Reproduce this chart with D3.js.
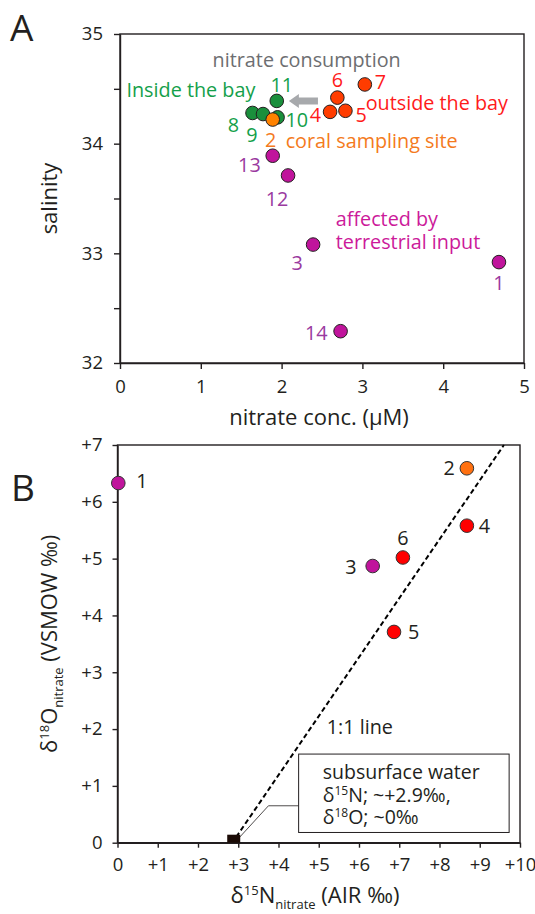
<!DOCTYPE html>
<html>
<head>
<meta charset="utf-8">
<script src="https://cdn.jsdelivr.net/npm/d3@7"></script>
<style>
  body { margin: 0; background: #fff; }
  svg { font-family: "Open Sans", "Noto Sans", sans-serif; }
  .axis path, .axis line { stroke: #231f20; stroke-width: 1.4; }
  .axis text { fill: #231f20; font-size: 18.5px; font-family: "Open Sans", sans-serif; }
</style>
</head>
<body>
<div id="chart"></div>
<script>
// panel A: salinity vs nitrate
let sitesA    = ["1", "2", "3", "4", "5", "6", "7", "8", "9", "10", "11", "12", "13", "14"];
let nitrateA  = [4.69, 1.89, 2.39, 2.60, 2.79, 2.69, 3.03, 1.64, 1.77, 1.95, 1.94, 2.08, 1.89, 2.73];
let salinityA = [32.92, 34.22, 33.08, 34.29, 34.30, 34.42, 34.54, 34.28, 34.27, 34.24, 34.39, 33.71, 33.89, 32.29];
let groupA    = ["terr", "coral", "terr", "out", "out", "out", "out", "in", "in", "in", "in", "terr", "terr", "terr"];
let xTicksA = [0, 1, 2, 3, 4, 5];
let yTicksA = [32, 32.5, 33, 33.5, 34, 34.5, 35];

// panel B: d18O vs d15N
let sitesB = ["1", "2", "3", "4", "5", "6"];
let d15N   = [0.02, 8.68, 6.34, 8.68, 6.87, 7.09];
let d18O   = [6.33, 6.59, 4.87, 5.58, 3.71, 5.02];
let groupB = ["terr", "coral", "terr", "out", "out", "out"];
let xTicksB = [0, 1, 2, 3, 4, 5, 6, 7, 8, 9, 10];
let yTicksB = [0, 1, 2, 3, 4, 5, 6, 7];
let subsurface = {n: 2.9, o: 0};

let width = 535;
let height = 914;
let ink = "#231f20";
let circleRadius = 6.8;
let labelSize = 19.8;

let fillA = {in: "#1a8f3c", coral: "#ff8200", out: "#ff3c00", terr: "#c0149c"};
let fillB = {coral: "#ff7010", out: "#ff0000", terr: "#c0149c"};
let textA = {in: "#14a04a", coral: "#f47a20", out: "#ff1a1a", terr: "#9a3aa0"};

// label placement next to each point in A: [anchor, dx, dy]
let offA = {
  "1": ["middle", 0, 28], "2": ["middle", -2, 27], "3": ["middle", -16, 25],
  "4": ["end", -9, 10], "5": ["start", 10, 11], "6": ["middle", 0, -11],
  "7": ["start", 10, 5], "8": ["middle", -19, 19], "9": ["middle", -11, 28],
  "10": ["start", 8, 10], "11": ["middle", 5, -9], "12": ["middle", -11, 31],
  "13": ["end", -12, 16], "14": ["end", -13, 9]
};
let offB = {
  "1": ["start", 18, 5], "2": ["end", -12, 7], "3": ["end", -16, 8],
  "4": ["start", 12, 7], "5": ["start", 14, 7], "6": ["middle", 0, -12]
};

let svg = d3.select("#chart").append("svg")
  .attr("width", width)
  .attr("height", height);

// ---------- panel A ----------
let xA = d3.scaleLinear().domain([0, 5]).range([120, 524]);
let yA = d3.scaleLinear().domain([32, 35]).range([363, 34]);

svg.append("rect")
  .attr("x", xA(0)).attr("y", yA(35))
  .attr("width", xA(5) - xA(0)).attr("height", yA(32) - yA(35))
  .attr("fill", "none").attr("stroke", ink).attr("stroke-width", 1.4);

svg.append("g").attr("class", "axis")
  .attr("transform", "translate(0," + yA(32) + ")")
  .call(d3.axisBottom(xA).tickValues(xTicksA).tickSize(6).tickSizeOuter(0).tickPadding(11)
    .tickFormat(d => String(d)));

svg.append("g").attr("class", "axis")
  .attr("transform", "translate(" + xA(0) + ",0)")
  .call(d3.axisLeft(yA).tickValues(yTicksA).tickSize(6).tickSizeOuter(0).tickPadding(11)
    .tickFormat(d => d % 1 === 0 ? String(d) : ""));

svg.append("text").text("A")
  .attr("x", 10).attr("y", 41)
  .attr("font-size", 37).attr("fill", ink);

svg.append("text").text("nitrate conc. (\u03bcM)")
  .attr("x", 319).attr("y", 425)
  .attr("text-anchor", "middle").attr("font-size", 22).attr("fill", ink);

svg.append("text").text("salinity")
  .attr("transform", "translate(57," + yA(33.5) + ") rotate(-90)")
  .attr("text-anchor", "middle").attr("font-size", 22).attr("fill", ink);

let dataA = sitesA.map((s, i) => ({site: s, x: nitrateA[i], y: salinityA[i], g: groupA[i]}));
// orange site drawn last so it sits on top
let drawOrderA = dataA.filter(d => d.g !== "coral").concat(dataA.filter(d => d.g === "coral"));

svg.append("g").selectAll("circle")
  .data(drawOrderA)
  .join("circle")
  .attr("cx", d => xA(d.x)).attr("cy", d => yA(d.y))
  .attr("r", circleRadius)
  .attr("fill", d => fillA[d.g])
  .attr("stroke", ink).attr("stroke-width", 1);

svg.append("g").selectAll("text")
  .data(dataA)
  .join("text")
  .text(d => d.site)
  .attr("x", d => xA(d.x) + offA[d.site][1])
  .attr("y", d => yA(d.y) + offA[d.site][2])
  .attr("text-anchor", d => offA[d.site][0])
  .attr("font-size", labelSize)
  .attr("fill", d => textA[d.g]);

let notesA = [
  {t: "nitrate consumption", x: 2.31, y: 34.70, c: "#6d6e71", a: "middle"},
  {t: "Inside the bay", x: 0.08, y: 34.43, c: "#14a04a", a: "start"},
  {t: "outside the bay", x: 3.04, y: 34.31, c: "#ff1a1a", a: "start"},
  {t: "coral sampling site", x: 2.05, y: 33.96, c: "#f47a20", a: "start"},
  {t: "affected by", x: 2.67, y: 33.25, c: "#cc1a9a", a: "start"},
  {t: "terrestrial input", x: 2.67, y: 33.04, c: "#cc1a9a", a: "start"}
];
svg.append("g").selectAll("text")
  .data(notesA)
  .join("text")
  .text(d => d.t)
  .attr("x", d => xA(d.x)).attr("y", d => yA(d.y))
  .attr("text-anchor", d => d.a)
  .attr("font-size", labelSize)
  .attr("fill", d => d.c);

// grey arrow: nitrate consumption
let ax0 = xA(2.45), ax1 = xA(2.09), ay = yA(34.39);
svg.append("path")
  .attr("d", "M" + ax0 + "," + (ay - 3.5) + "H" + (ax1 + 10) + "V" + (ay - 7) +
             "L" + ax1 + "," + ay + "L" + (ax1 + 10) + "," + (ay + 7) +
             "V" + (ay + 3.5) + "H" + ax0 + "Z")
  .attr("fill", "#a7a9ac");

// ---------- panel B ----------
let xB = d3.scaleLinear().domain([0, 10]).range([117.5, 520]);
let yB = d3.scaleLinear().domain([0, 7]).range([842.7, 445]);

svg.append("rect")
  .attr("x", xB(0)).attr("y", yB(7))
  .attr("width", xB(10) - xB(0)).attr("height", yB(0) - yB(7))
  .attr("fill", "none").attr("stroke", ink).attr("stroke-width", 1.4);

svg.append("g").attr("class", "axis")
  .attr("transform", "translate(0," + yB(0) + ")")
  .call(d3.axisBottom(xB).tickValues(xTicksB).tickSize(5).tickSizeOuter(0).tickPadding(10)
    .tickFormat(d => d === 0 ? "0" : "+" + d));

svg.append("g").attr("class", "axis")
  .attr("transform", "translate(" + xB(0) + ",0)")
  .call(d3.axisLeft(yB).tickValues(yTicksB).tickSize(5).tickSizeOuter(0).tickPadding(10)
    .tickFormat(d => d === 0 ? "0" : "+" + d));

svg.append("text").text("B")
  .attr("x", 11).attr("y", 501)
  .attr("font-size", 37).attr("fill", ink);

// x title with super/subscripts
let xt = svg.append("text")
  .attr("x", 315).attr("y", 903)
  .attr("text-anchor", "middle").attr("font-size", 22).attr("fill", ink);
xt.append("tspan").text("\u03b4");
xt.append("tspan").text("15").attr("font-size", 13).attr("dy", -8);
xt.append("tspan").text("N").attr("dy", 8);
xt.append("tspan").text("nitrate").attr("font-size", 13).attr("dy", 6);
xt.append("tspan").text(" (AIR \u2030)").attr("dy", -6);

let yt = svg.append("text")
  .attr("transform", "translate(57," + yB(3.5) + ") rotate(-90)")
  .attr("text-anchor", "middle").attr("font-size", 22).attr("fill", ink);
yt.append("tspan").text("\u03b4");
yt.append("tspan").text("18").attr("font-size", 13).attr("dy", -8);
yt.append("tspan").text("O").attr("dy", 8);
yt.append("tspan").text("nitrate").attr("font-size", 13).attr("dy", 6);
yt.append("tspan").text(" (VSMOW \u2030)").attr("dy", -6);

// 1:1 line from subsurface water
svg.append("line")
  .attr("x1", xB(subsurface.n + 0.05)).attr("y1", yB(subsurface.o + 0.1))
  .attr("x2", xB(9.6)).attr("y2", yB(7))
  .attr("stroke", "#000").attr("stroke-width", 2)
  .attr("stroke-dasharray", "5,3");

svg.append("text").text("1:1 line")
  .attr("x", xB(5.2)).attr("y", yB(1.91))
  .attr("font-size", labelSize).attr("fill", ink);

// annotation box with leader
svg.append("path")
  .attr("d", "M" + xB(4.5) + "," + yB(0.65) + "H" + xB(3.75) + "L" + xB(3.0) + "," + yB(0.07))
  .attr("fill", "none").attr("stroke", ink).attr("stroke-width", 0.8);

svg.append("rect")
  .attr("x", xB(4.5)).attr("y", yB(1.56))
  .attr("width", xB(9.73) - xB(4.5)).attr("height", yB(0.18) - yB(1.56))
  .attr("fill", "#fff").attr("stroke", ink).attr("stroke-width", 1);

let boxText = svg.append("text")
  .attr("font-size", 19.5).attr("fill", ink);
boxText.append("tspan").text("subsurface water")
  .attr("x", xB(5.1)).attr("y", 779);
boxText.append("tspan").text("\u03b4").attr("x", xB(5.1)).attr("y", 802);
boxText.append("tspan").text("15").attr("font-size", 12).attr("dy", -7);
boxText.append("tspan").text("N; ~+2.9\u2030,").attr("dy", 7);
boxText.append("tspan").text("\u03b4").attr("x", xB(5.1)).attr("y", 824);
boxText.append("tspan").text("18").attr("font-size", 12).attr("dy", -7);
boxText.append("tspan").text("O; ~0\u2030").attr("dy", 7);

// subsurface water marker
svg.append("rect")
  .attr("x", xB(subsurface.n) - 7).attr("y", yB(subsurface.o) - 8)
  .attr("width", 13).attr("height", 8)
  .attr("fill", "#1a0a05");

let dataB = sitesB.map((s, i) => ({site: s, x: d15N[i], y: d18O[i], g: groupB[i]}));

svg.append("g").selectAll("circle")
  .data(dataB)
  .join("circle")
  .attr("cx", d => xB(d.x)).attr("cy", d => yB(d.y))
  .attr("r", circleRadius)
  .attr("fill", d => fillB[d.g])
  .attr("stroke", "#333").attr("stroke-width", 1);

svg.append("g").selectAll("text")
  .data(dataB)
  .join("text")
  .text(d => d.site)
  .attr("x", d => xB(d.x) + offB[d.site][1])
  .attr("y", d => yB(d.y) + offB[d.site][2])
  .attr("text-anchor", d => offB[d.site][0])
  .attr("font-size", labelSize)
  .attr("fill", ink);
</script>
</body>
</html>
